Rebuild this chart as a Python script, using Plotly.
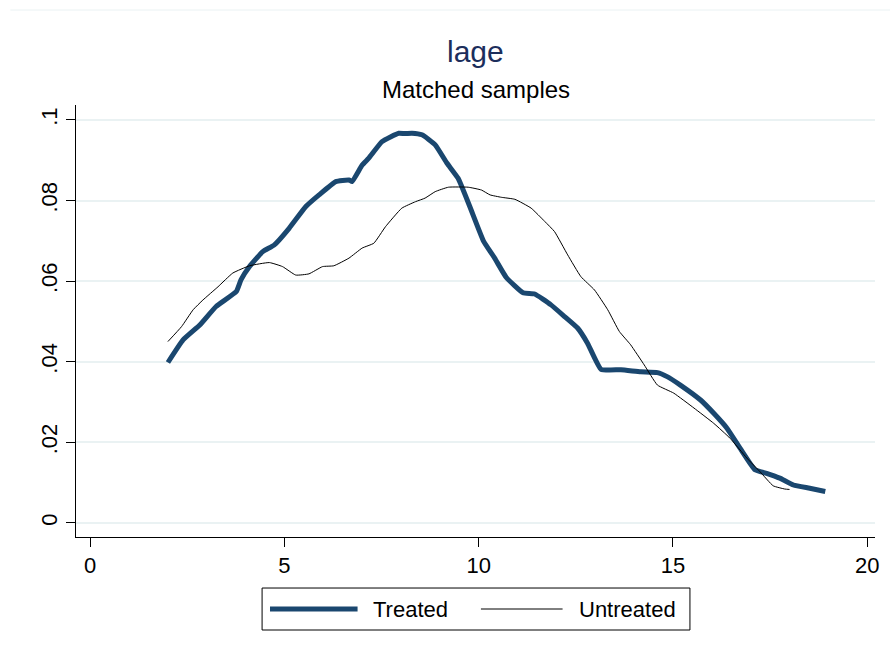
import plotly.graph_objects as go

# ---- data ----
treated_x = [2.00, 2.39, 2.82, 3.24, 3.76, 3.88, 4.10, 4.44, 4.74, 5.12, 5.55, 5.89, 6.32, 6.66,
             6.74, 7.00, 7.17, 7.51, 7.94, 8.10, 8.28, 8.54, 8.88, 9.18, 9.47, 9.77, 10.12,
             10.41, 10.71, 11.14, 11.44, 11.86, 12.21, 12.55, 12.80, 13.15, 13.66, 14.17,
             14.60, 14.85, 15.19, 15.71, 16.05, 16.39, 16.73, 17.11, 17.41, 17.75, 18.10,
             18.52, 18.92]
treated_y = [.0398, .0454, .0491, .0537, .0574, .0603, .0636, .0673, .0690, .0731, .0785, .0814,
             .0847, .0851, .0847, .0888, .0905, .0946, .0967, .0966, .0967, .0963, .0938, .0893,
             .0855, .0785, .0700, .0657, .0609, .0571, .0568, .0541, .0512, .0483, .0446, .0381,
             .0380, .0375, .0373, .0363, .0342, .0305, .0272, .0235, .0185, .0132, .0123, .0111,
             .0094, .0086, .0078]

untreated_x = [2.00, 2.35, 2.65, 2.90, 3.29, 3.67, 4.10, 4.61, 4.95, 5.29, 5.63, 5.98, 6.27,
               6.66, 7.00, 7.30, 7.60, 8.02, 8.37, 8.62, 8.88, 9.22, 9.73, 10.07, 10.29, 10.58,
               10.93, 11.35, 11.70, 11.95, 12.29, 12.63, 12.98, 13.32, 13.62, 13.91, 14.26,
               14.60, 15.02, 15.54, 16.05, 16.47, 16.90, 17.24, 17.58, 17.88, 18.00]
untreated_y = [.0450, .0487, .0529, .0553, .0586, .0620, .0638, .0646, .0636, .0615, .0618,
               .0636, .0638, .0657, .0682, .0694, .0735, .0781, .0797, .0806, .0822, .0833,
               .0833, .0826, .0814, .0808, .0803, .0781, .0748, .0723, .0665, .0611, .0578,
               .0529, .0475, .0442, .0392, .0342, .0322, .0285, .0247, .0210, .0161, .0127,
               .0092, .0084, .0083]

series_names = ["Treated", "Untreated"]
x_ticks = [0, 5, 10, 15, 20]
y_ticks = [0, 0.02, 0.04, 0.06, 0.08, 0.1]
y_tick_labels = ["0", ".02", ".04", ".06", ".08", ".1"]

title_text = "lage"
subtitle_text = "Matched samples"

FONT = "Liberation Sans, Arial, sans-serif"
TREATED_COLOR = "#1a476f"

fig = go.Figure()
fig.add_trace(go.Scatter(x=treated_x, y=treated_y, mode="lines", name=series_names[0],
                         line=dict(color=TREATED_COLOR, width=5, shape="spline", smoothing=0.4),
                         showlegend=False))
fig.add_trace(go.Scatter(x=untreated_x, y=untreated_y, mode="lines", name=series_names[1],
                         line=dict(color="#000000", width=1, shape="spline", smoothing=0.4),
                         showlegend=False))

# legend drawn as a boxed key below the plot (Stata style, long line samples)
leg_y = -0.1667
shapes = [
    dict(type="line", xref="paper", yref="paper", x0=-0.0822, x1=1.02,
         y0=1.2199, y1=1.2199, line=dict(color="#eaf2f3", width=1)),
    dict(type="rect", xref="paper", yref="paper", x0=0.2329, x1=0.7684,
         y0=-0.2153, y1=-0.1181, line=dict(color="black", width=1), fillcolor="white"),
    dict(type="line", xref="paper", yref="paper", x0=0.2428, x1=0.3524,
         y0=leg_y, y1=leg_y, line=dict(color=TREATED_COLOR, width=5)),
    dict(type="line", xref="paper", yref="paper", x0=0.5068, x1=0.6090,
         y0=leg_y, y1=leg_y, line=dict(color="black", width=1)),
]

fig.update_layout(
    width=890, height=654,
    margin=dict(l=76, r=11, t=105, b=117),
    paper_bgcolor="white", plot_bgcolor="white",
    font=dict(family=FONT, color="black", size=22),
    showlegend=False,
    xaxis=dict(range=[-0.366, 20.2], tickvals=x_ticks, ticks="outside", ticklen=9,
               tickcolor="black", showline=True, linecolor="black", linewidth=1,
               showgrid=False, zeroline=False, tickfont=dict(size=22)),
    yaxis=dict(range=[-0.0035, 0.1037], tickvals=y_ticks, ticktext=y_tick_labels,
               ticks="outside", ticklen=9, tickcolor="black", showline=True,
               linecolor="black", linewidth=1, showgrid=True, gridcolor="#eaf2f3",
               gridwidth=1.5, zeroline=False, tickangle=-90, tickfont=dict(size=22)),
    annotations=[
        dict(text=title_text, xref="paper", yref="paper", x=0.5, y=1.125,
             xanchor="center", yanchor="middle", showarrow=False,
             font=dict(size=30, color="#1c2e5c", family=FONT)),
        dict(text=subtitle_text, xref="paper", yref="paper", x=0.5, y=1.037,
             xanchor="center", yanchor="middle", showarrow=False,
             font=dict(size=24, color="black", family=FONT)),
        dict(text=series_names[0], xref="paper", yref="paper", x=0.3686, y=leg_y,
             xanchor="left", yanchor="middle", showarrow=False,
             font=dict(size=22, color="black", family=FONT)),
        dict(text=series_names[1], xref="paper", yref="paper", x=0.6276, y=leg_y,
             xanchor="left", yanchor="middle", showarrow=False,
             font=dict(size=22, color="black", family=FONT)),
    ],
    shapes=shapes,
)

fig.write_html("out.html")
